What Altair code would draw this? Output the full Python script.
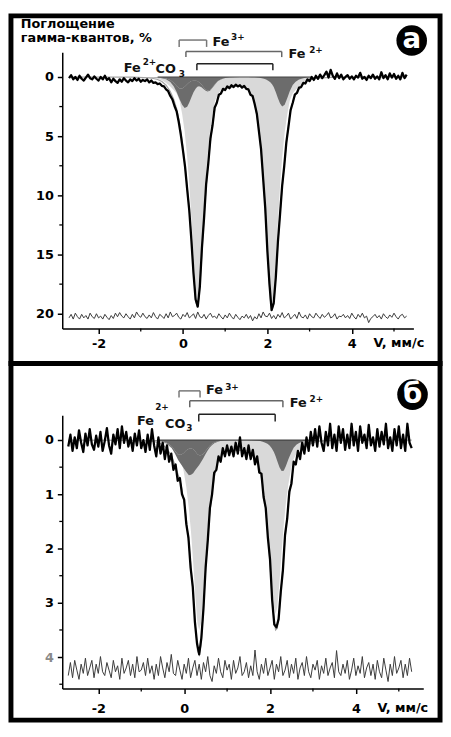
import altair as alt
import pandas as pd

FONT = "DejaVu Sans"

# ---------------- velocity channels (mm/s) ----------------
N_CH = 161
V_START = -2.7
V_STEP = 0.05
velocity = [round(V_START + V_STEP * i, 2) for i in range(N_CH)]

# ======================= panel а =======================
a_absorption = [
    0.1, -0.15, 0.2, 0.0, 0.25, -0.1, 0.15, 0.3, 0.05, -0.2,
    0.1, 0.2, -0.05, 0.15, 0.3, 0.0, 0.2, -0.1, 0.25, 0.1,
    0.45, 0.15, 0.35, 0.5, 0.2, 0.4, 0.1, 0.3, 0.45, 0.2,
    0.35, 0.1, 0.3, 0.15, 0.4, 0.25, 0.35, 0.2, 0.45, 0.3,
    0.5, 0.45, 0.6, 0.55, 0.75, 0.8, 1.05, 1.2, 1.6, 1.9,
    2.45, 2.9, 3.8, 4.9, 6.2, 7.6, 9.5, 11.3, 13.8, 16.6,
    18.8, 19.4, 17.7, 14.4, 11.9, 9.0, 7.3, 5.2, 4.1, 2.6,
    2.2, 1.5, 1.4, 1.0, 1.1, 0.8, 0.95, 0.7, 0.85, 0.65,
    0.8, 0.7, 0.9, 0.75, 1.0, 1.05, 1.5, 1.6, 2.3, 3.1,
    4.6, 6.1, 8.6, 11.1, 14.7, 17.5, 19.7, 19.1, 16.9, 13.9,
    11.6, 9.2, 7.5, 5.5, 4.2, 2.8, 2.2, 1.5, 1.35, 0.9,
    0.85, 0.5, 0.55, 0.2, 0.35, 0.0, 0.25, -0.1, 0.15, -0.2,
    0.1, -0.15, -0.45, 0.05, -0.6, -0.1, 0.15, -0.3, 0.1, -0.2,
    0.2, 0.0, -0.15, 0.15, -0.05, 0.2, -0.1, 0.05, -0.35, 0.15,
    0.0, 0.25, -0.1, 0.1, -0.2, 0.15, -0.05, 0.2, -0.4, 0.1,
    -0.15, 0.2, -0.3, 0.05, -0.25, 0.15, -0.1, 0.2, -0.35, 0.1,
    -0.2,
]
a_residual = [
    0.2, -0.1, 0.3, -0.2, 0.1, 0.3, -0.1, 0.2, 0.0, 0.3,
    -0.2, 0.1, 0.25, -0.15, 0.2, 0.05, 0.3, -0.1, 0.15, 0.35,
    0.0, 0.25, -0.2, 0.1, -0.25, 0.05, 0.2, -0.15, 0.1, 0.3,
    -0.1, 0.2, -0.3, 0.0, 0.15, -0.2, 0.1, 0.25, -0.05, 0.2,
    -0.25, 0.1, 0.3, -0.1, 0.05, 0.25, -0.15, 0.2, -0.3, 0.1,
    0.0, -0.2, 0.15, 0.3, -0.1, 0.1, -0.25, 0.2, 0.05, -0.15,
    0.25, -0.3, 0.1, 0.2, -0.1, 0.3, 0.0, -0.2, 0.15, 0.05,
    0.25, -0.15, 0.1, 0.3, -0.05, 0.2, -0.2, 0.1, 0.3, -0.1,
    0.15, 0.35, 0.05, 0.2, -0.1, 0.25, 0.0, 0.45, 0.1, 0.3,
    -0.15, 0.2, -0.3, 0.05, 0.1, -0.2, 0.25, 0.0, 0.3, -0.1,
    0.15, -0.25, 0.2, 0.05, -0.2, 0.3, 0.1, -0.1, 0.25, -0.3,
    0.1, 0.2, -0.05, 0.3, -0.15, 0.1, 0.2, -0.2, 0.05, 0.25,
    -0.1, 0.15, 0.0, -0.25, 0.2, 0.1, -0.15, 0.3, 0.05, 0.1,
    -0.1, 0.2, 0.0, 0.25, -0.2, 0.1, 0.3, -0.1, 0.15, -0.2,
    0.2, 0.05, 0.6, 0.25, 0.1, -0.1, 0.2, 0.0, 0.3, -0.15,
    0.1, 0.25, -0.05, 0.15, -0.2, 0.1, 0.3, 0.0, -0.1, 0.2,
    0.05,
]
a_residual_offset = 20.15

a_fit_v = [
    -2.7, -1.2, -0.8, -0.7, -0.6, -0.5, -0.4, -0.3, -0.22, -0.15,
    -0.08, -0.02, 0.04, 0.10, 0.15, 0.20, 0.25, 0.30, 0.34, 0.38,
    0.43, 0.48, 0.53, 0.58, 0.64, 0.70, 0.76, 0.83, 0.90, 1.00,
    1.10, 1.22, 1.35, 1.45, 1.55, 1.62, 1.69, 1.75, 1.81, 1.87,
    1.92, 1.97, 2.02, 2.07, 2.11, 2.15, 2.20, 2.25, 2.30, 2.35,
    2.41, 2.47, 2.53, 2.60, 2.67, 2.75, 2.85, 2.95, 3.05, 3.2,
    3.5, 4.0, 5.3,
]
a_siderite = [
    0, 0.02, 0.06, 0.1, 0.16, 0.28, 0.5, 0.8, 1.1, 1.4,
    2.0, 3.1, 4.6, 6.75, 9.05, 11.95, 15.2, 17.9, 18.6, 17.9,
    15.2, 11.95, 9.05, 6.75, 4.6, 3.1, 2.0, 1.45, 1.1, 0.9,
    0.8, 0.75, 0.75, 0.8, 1.1, 1.5, 2.0, 3.2, 4.7, 6.85,
    9.25, 12.25, 15.55, 18.35, 19.0, 18.35, 15.55, 12.25, 9.25, 6.85,
    4.7, 3.2, 2.0, 1.4, 1.1, 0.8, 0.5, 0.28, 0.16, 0.08,
    0.03, 0.01, 0,
]
a_fe2 = [
    0, 0, 0, 0.01, 0.02, 0.04, 0.08, 0.17, 0.3, 0.51,
    0.91, 1.37, 1.79, 1.9, 1.71, 1.37, 0.99, 0.68, 0.48, 0.34,
    0.24, 0.17, 0.11, 0.08, 0.06, 0.04, 0.03, 0.02, 0.01, 0,
    0, 0, 0, 0, 0.01, 0.02, 0.03, 0.05, 0.07, 0.11,
    0.15, 0.22, 0.31, 0.45, 0.62, 0.85, 1.3, 1.8, 2.25, 2.5,
    2.35, 1.8, 1.2, 0.68, 0.4, 0.22, 0.11, 0.05, 0.03, 0.01,
    0, 0, 0,
]
a_fe3 = [
    0, 0, 0.01, 0.015, 0.03, 0.06, 0.12, 0.25, 0.48, 0.76,
    0.97, 0.97, 0.83, 0.61, 0.44, 0.34, 0.31, 0.32, 0.35, 0.44,
    0.6, 0.82, 1.03, 1.15, 1.1, 0.87, 0.6, 0.33, 0.2, 0.09,
    0.05, 0.02, 0.01, 0, 0, 0, 0, 0, 0, 0,
    0, 0, 0, 0, 0, 0, 0, 0, 0, 0,
    0, 0, 0, 0, 0, 0, 0, 0, 0, 0,
    0, 0, 0,
]
a_total = [
    0, 0.02, 0.07, 0.13, 0.21, 0.38, 0.7, 1.22, 1.88, 2.67,
    3.88, 5.44, 7.22, 9.26, 11.2, 13.66, 16.5, 18.9, 19.43, 18.68,
    16.04, 12.94, 10.19, 7.98, 5.76, 4.01, 2.63, 1.8, 1.31, 0.99,
    0.85, 0.77, 0.76, 0.8, 1.11, 1.52, 2.03, 3.25, 4.77, 6.96,
    9.4, 12.47, 15.86, 18.8, 19.62, 19.2, 16.85, 14.05, 11.5, 9.35,
    7.05, 5.0, 3.2, 2.08, 1.5, 1.02, 0.61, 0.33, 0.19, 0.09,
    0.03, 0.01, 0,
]

# ======================= panel б =======================
b_absorption = [
    0.12, -0.1, 0.2, -0.05, 0.15, -0.18, 0.05, 0.22, -0.12, 0.1,
    -0.2, 0.08, 0.18, -0.08, 0.12, -0.15, 0.2, 0.02, -0.22, 0.1,
    0.25, -0.1, 0.08, -0.2, 0.15, -0.25, 0.05, -0.15, 0.12, -0.05,
    0.2, -0.12, 0.1, -0.18, 0.15, 0.0, 0.22, -0.1, 0.18, -0.2,
    0.1, 0.3, -0.05, 0.25, 0.05, 0.35, 0.1, 0.4, 0.25, 0.55,
    0.45, 0.75, 0.7, 1.0, 1.1, 1.55, 1.8, 2.35, 2.7, 3.35,
    3.75, 3.95, 3.65, 3.1, 2.35, 1.85, 1.25, 1.0, 0.6, 0.55,
    0.3, 0.4, 0.15, 0.3, 0.1, 0.28, 0.12, 0.3, 0.05, 0.25,
    -0.05, 0.3, 0.15, 0.35, 0.1, 0.35, 0.18, 0.45, 0.3, 0.6,
    0.62, 1.05, 1.25, 1.8, 2.2, 2.95, 3.4, 3.45, 3.3, 2.8,
    2.4, 1.75, 1.45, 0.95, 0.8, 0.4, 0.45, 0.2, 0.35, 0.05,
    0.25, -0.05, 0.2, -0.15, 0.1, -0.2, 0.12, -0.25, 0.05, 0.2,
    -0.15, 0.1, -0.3, 0.15, -0.1, 0.2, -0.25, 0.05, -0.2, 0.18,
    -0.1, 0.15, -0.3, 0.1, -0.15, 0.2, -0.25, 0.05, -0.1, 0.15,
    -0.28, 0.1, -0.05, 0.2, -0.2, 0.12, -0.15, 0.08, -0.3, 0.15,
    -0.05, 0.2, -0.2, 0.1, -0.25, 0.15, -0.1, 0.2, -0.3, 0.05,
    0.15,
]
b_residual = [
    0.14, -0.1, 0.18, -0.14, 0.04, 0.21, -0.07, 0.1, -0.18, 0.14,
    0.0, -0.14, 0.18, -0.07, 0.1, -0.21, 0.07, 0.14, -0.1, 0.04,
    0.18, -0.14, 0.07, -0.04, 0.21, -0.18, 0.1, 0.0, -0.14, 0.14,
    -0.07, 0.18, -0.21, 0.07, 0.04, -0.1, 0.14, -0.18, 0.1, -0.04,
    0.21, -0.07, 0.14, -0.21, 0.0, 0.18, -0.1, 0.07, -0.25, 0.1,
    0.14, -0.14, 0.04, 0.21, -0.07, 0.1, -0.18, 0.18, 0.0, -0.14,
    0.14, -0.07, 0.21, -0.1, 0.07, -0.21, 0.14, 0.25, -0.04, 0.1,
    -0.18, 0.07, 0.18, -0.14, 0.04, -0.07, 0.21, -0.14, 0.1, 0.0,
    -0.21, 0.14, 0.07, -0.1, 0.18, -0.04, 0.14, -0.33, 0.07, 0.21,
    -0.07, 0.1, -0.18, 0.14, 0.0, -0.14, 0.21, -0.07, 0.07, -0.21,
    0.14, 0.04, -0.14, 0.18, -0.07, 0.1, -0.18, 0.21, 0.0, -0.1,
    0.14, -0.21, 0.07, 0.18, -0.07, 0.04, -0.14, 0.21, -0.04, 0.1,
    -0.18, 0.14, 0.0, -0.1, 0.18, -0.32, 0.07, 0.14, -0.07, 0.1,
    -0.14, 0.21, 0.04, -0.18, 0.14, -0.04, 0.1, -0.21, 0.18, 0.0,
    -0.1, 0.14, -0.07, 0.21, -0.14, 0.07, 0.18, -0.18, 0.04, 0.25,
    -0.07, 0.14, -0.21, 0.1, 0.0, -0.14, 0.18, -0.07, 0.14, -0.18,
    0.07,
]
b_residual_offset = 4.2

b_fit_v = [
    -2.7, -1.2, -0.8, -0.7, -0.6, -0.5, -0.4, -0.29, -0.21, -0.14,
    -0.07, -0.01, 0.05, 0.11, 0.16, 0.21, 0.26, 0.31, 0.35, 0.39,
    0.44, 0.49, 0.54, 0.59, 0.65, 0.71, 0.77, 0.84, 0.91, 1.0,
    1.1, 1.22, 1.35, 1.47, 1.57, 1.64, 1.71, 1.77, 1.83, 1.89,
    1.94, 1.99, 2.04, 2.09, 2.13, 2.17, 2.22, 2.27, 2.32, 2.37,
    2.43, 2.49, 2.55, 2.62, 2.69, 2.77, 2.87, 2.97, 3.07, 3.2,
    3.5, 4.0, 5.3,
]
b_siderite = [
    0, 0.005, 0.015, 0.02, 0.03, 0.055, 0.095, 0.15, 0.21, 0.27,
    0.38, 0.58, 0.87, 1.27, 1.7, 2.25, 2.87, 3.38, 3.5, 3.38,
    2.87, 2.25, 1.7, 1.27, 0.87, 0.59, 0.4, 0.29, 0.24, 0.21,
    0.2, 0.19, 0.19, 0.2, 0.24, 0.3, 0.38, 0.53, 0.8, 1.16,
    1.56, 2.06, 2.62, 3.08, 3.2, 3.08, 2.62, 2.06, 1.56, 1.16,
    0.8, 0.53, 0.35, 0.25, 0.19, 0.14, 0.09, 0.05, 0.03, 0.015,
    0.005, 0, 0,
]
b_fe2 = [
    0, 0, 0, 0, 0.004, 0.008, 0.015, 0.033, 0.058, 0.1,
    0.18, 0.28, 0.4, 0.49, 0.49, 0.44, 0.34, 0.24, 0.18, 0.13,
    0.085, 0.06, 0.04, 0.03, 0.02, 0.015, 0.01, 0.005, 0, 0,
    0, 0, 0, 0, 0.004, 0.008, 0.013, 0.02, 0.03, 0.048,
    0.068, 0.1, 0.15, 0.22, 0.3, 0.39, 0.5, 0.57, 0.565, 0.48,
    0.35, 0.24, 0.14, 0.08, 0.048, 0.027, 0.014, 0.006, 0.003, 0,
    0, 0, 0,
]
b_fe3 = [
    0, 0, 0, 0.01, 0.011, 0.023, 0.048, 0.115, 0.2, 0.27,
    0.27, 0.24, 0.19, 0.16, 0.15, 0.17, 0.21, 0.26, 0.28, 0.28,
    0.26, 0.21, 0.16, 0.11, 0.07, 0.04, 0.025, 0.015, 0.01, 0.005,
    0, 0, 0, 0, 0, 0, 0, 0, 0, 0,
    0, 0, 0, 0, 0, 0, 0, 0, 0, 0,
    0, 0, 0, 0, 0, 0, 0, 0, 0, 0,
    0, 0, 0,
]
b_total = [
    0, 0.005, 0.015, 0.03, 0.045, 0.086, 0.158, 0.3, 0.47, 0.64,
    0.83, 1.1, 1.46, 1.92, 2.34, 2.86, 3.42, 3.88, 3.96, 3.79,
    3.22, 2.52, 1.9, 1.41, 0.96, 0.65, 0.44, 0.31, 0.25, 0.21,
    0.2, 0.19, 0.19, 0.2, 0.24, 0.31, 0.39, 0.55, 0.83, 1.21,
    1.63, 2.16, 2.77, 3.3, 3.5, 3.47, 3.12, 2.63, 2.13, 1.64,
    1.15, 0.77, 0.49, 0.33, 0.24, 0.17, 0.1, 0.06, 0.03, 0.015,
    0.005, 0, 0,
]

# ---------------- axes / annotations ----------------
x_major = [-2, 0, 2, 4]
x_minor = [-1, 1, 3, 5]
a_y_major = [0, 5, 10, 15, 20]
a_y_minor = [2.5, 7.5, 12.5, 17.5]
b_y_major = [0, 1, 2, 3, 4]
b_y_minor = [0.5, 1.5, 2.5, 3.5, 4.5]

y_title = ["Поглощение", "гамма-квантов, %"]
x_title = "V, мм/с"

# brackets: (left line, right line, bar level, leg end, colour)
a_brackets = [(-0.09, 0.56, -3.12, -2.54, "#777777"),
              (0.07, 2.34, -2.15, -1.68, "#666666"),
              (0.33, 2.13, -1.12, -0.56, "#222222")]
b_brackets = [(-0.12, 0.37, -0.906, -0.786, "#777777"),
              (0.13, 2.30, -0.724, -0.604, "#666666"),
              (0.34, 2.12, -0.477, -0.342, "#222222")]

# text pieces: (text, velocity, depth, font size)
a_labels = [("Fe", 0.70, -2.62, 13), ("3+", 1.14, -3.12, 9),
            ("Fe", 2.50, -1.58, 13), ("2+", 2.99, -2.04, 9),
            ("Fe", -1.40, -0.41, 13), ("2+", -0.955, -1.0, 9),
            ("CO", -0.65, -0.33, 13), ("3", -0.10, -0.04, 9)]
b_labels = [("Fe", 0.51, -0.855, 13), ("3+", 0.956, -0.928, 9),
            ("Fe", 2.46, -0.615, 13), ("2+", 2.92, -0.71, 9),
            ("Fe", -1.10, -0.273, 13), ("2+", -0.675, -0.555, 9),
            ("CO", -0.446, -0.219, 13), ("3", 0.05, -0.173, 9)]

a_badge = ("а", 5.42, -3.08)
b_badge = ("б", 5.32, -0.837)


def panel(absorb, resid, res_off, fit_v, sid, fe2, fe3, total,
          xdom, ydom, w, h, y_major, y_minor, ytitle, xlab_pad, xtitle_x,
          xtitle_y, brackets, labels, badge, frame, gray_label=None):
    xs = alt.Scale(domain=xdom, nice=False, zero=False)
    ys = alt.Scale(domain=ydom, nice=False, zero=False, reverse=True)
    common = dict(domainColor="black", domainWidth=1.5, tickColor="black",
                  tickWidth=1.5, tickSize=5, labelFont=FONT,
                  labelFontWeight="bold", labelFontSize=13, grid=False,
                  titleFont=FONT, titleFontWeight="bold", titleFontSize=13,
                  titleColor="black")
    xaxis = alt.Axis(values=x_major, title=x_title, labelPadding=xlab_pad,
                     labelColor="black", labelExpr="datum.value + ''",
                     titleX=xtitle_x, titleY=xtitle_y, titleAlign="left",
                     titleBaseline="middle", titleAngle=0, **common)
    if gray_label is not None:
        ylc = {"condition": {"test": f"datum.value === {gray_label}",
                             "value": "#8a8a8a"}, "value": "#000000"}
    else:
        ylc = "black"
    if ytitle is not None:
        yaxis = alt.Axis(values=y_major, title=ytitle, labelPadding=4,
                         labelColor=ylc, titleAngle=0, titleAlign="left",
                         titleBaseline="alphabetic", titleX=-42.5,
                         titleY=-25.5, titleLineHeight=15, **common)
    else:
        yaxis = alt.Axis(values=y_major, title=None, labelPadding=4,
                         labelColor=ylc, **common)

    X = alt.X("v:Q", scale=xs, axis=xaxis)
    Y = alt.Y("depth:Q", scale=ys, axis=yaxis)

    data_df = pd.DataFrame({"v": velocity, "depth": absorb})
    res_df = pd.DataFrame({"v": velocity, "r": resid})
    sid_df = pd.DataFrame({"v": fit_v, "depth": sid})
    tot_df = pd.DataFrame({"v": fit_v, "depth": total})
    n = len(fit_v)
    dark_df = pd.DataFrame({"v": list(fit_v) * 2, "depth": list(fe3) + list(fe2),
                            "comp": ["Fe3+"] * n + ["Fe2+"] * n})

    sid_area = alt.Chart(sid_df).mark_area(color="#d9d9d9").encode(
        x=X, y=Y, y2=alt.datum(0))
    dark_area = alt.Chart(dark_df).mark_area(color="#6c6c6c").encode(
        x=X, y=alt.Y("depth:Q", scale=ys, axis=yaxis, stack="zero"),
        detail="comp:N")
    base = alt.Chart(pd.DataFrame({"v": [fit_v[4]], "v2": [fit_v[-5]], "depth": [0]})
                     ).mark_rule(color="#444444", strokeWidth=1.2).encode(
        x=X, x2="v2", y=Y)
    fit_line = alt.Chart(tot_df).mark_line(color="#a3a3a3", strokeWidth=1.2).encode(
        x=X, y=Y)
    data_line = alt.Chart(data_df).mark_line(
        color="black", strokeWidth=2.3, strokeJoin="round").encode(x=X, y=Y)
    res_line = alt.Chart(res_df).transform_calculate(
        depth=f"datum.r + {res_off}").mark_line(
        color="#3a3a3a", strokeWidth=1).encode(x=X, y=Y)

    my = alt.Chart(pd.DataFrame({"depth": y_minor})).mark_rule(
        color="black", strokeWidth=1.3).encode(
        y=Y, x=alt.value(-3), x2=alt.value(0))
    mx = alt.Chart(pd.DataFrame({"v": x_minor})).mark_rule(
        color="black", strokeWidth=1.3).encode(
        x=X, y=alt.value(h), y2=alt.value(h + 3))

    segs = []
    for (l, r, bar, leg, col) in brackets:
        segs.append((l, r, bar, bar, col))
        segs.append((l, l, bar, leg, col))
        segs.append((r, r, bar, leg, col))
    br_df = pd.DataFrame(segs, columns=["v", "v2", "depth", "depth2", "col"])
    br = alt.Chart(br_df).mark_rule(strokeWidth=1.5).encode(
        x=X, x2="v2", y=Y, y2="depth2", color=alt.Color("col:N", scale=None))

    lab_df = pd.DataFrame(labels, columns=["t", "v", "depth", "fs"])
    lab = alt.Chart(lab_df).mark_text(
        align="left", baseline="alphabetic", font=FONT, fontWeight="bold",
        color="#111111").encode(x=X, y=Y, text="t:N",
                                size=alt.Size("fs:Q", scale=None))

    bd_df = pd.DataFrame([badge], columns=["t", "v", "depth"])
    circ = alt.Chart(bd_df).mark_circle(size=960, color="black", opacity=1).encode(
        x=X, y=Y)
    letter = alt.Chart(bd_df).mark_text(
        color="white", font=FONT, fontWeight="bold", fontSize=28,
        align="center", baseline="middle").encode(x=X, y=Y, text="t:N")

    fx1, fx2, fy1, fy2 = frame
    fr = alt.Chart(pd.DataFrame({"k": [0]})).mark_rect(
        fillOpacity=0, stroke="black", strokeWidth=5).encode(
        x=alt.value(fx1), x2=alt.value(fx2), y=alt.value(fy1), y2=alt.value(fy2))

    return alt.layer(sid_area, dark_area, base, fit_line, data_line, res_line,
                     my, mx, br, lab, circ, letter, fr).properties(width=w, height=h)


top = panel(a_absorption, a_residual, a_residual_offset, a_fit_v, a_siderite,
            a_fe2, a_fe3, a_total, [-2.86, 5.46], [-2.08, 21.25], 356, 280,
            a_y_major, a_y_minor, y_title, 4, 315, 14.5, a_brackets, a_labels,
            a_badge, (-52, 383, -37, 315.5))
bottom = panel(b_absorption, b_residual, b_residual_offset, b_fit_v, b_siderite,
               b_fe2, b_fe3, b_total, [-2.84, 5.57], [-0.455, 4.58], 366, 277,
               b_y_major, b_y_minor, None, 9, 319, 19.5, b_brackets, b_labels,
               b_badge, (-52, 383, -52.5, 309), gray_label=4)

chart = alt.vconcat(top, bottom, spacing=88, bounds="flush").properties(
    padding=0).configure_view(strokeWidth=0)

chart.save("out.html", embed_options={"renderer": "svg", "actions": False})
